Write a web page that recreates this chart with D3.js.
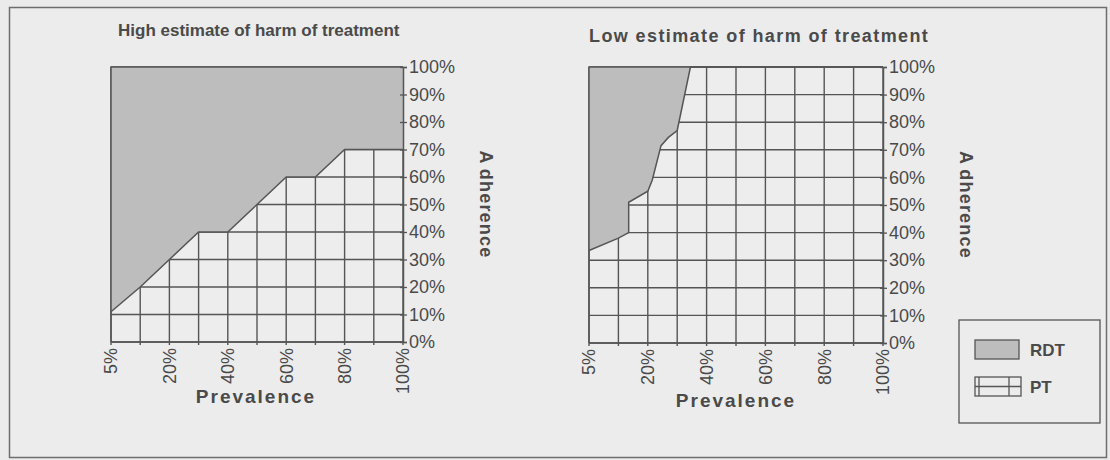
<!DOCTYPE html>
<html>
<head>
<meta charset="utf-8">
<script src="https://cdn.jsdelivr.net/npm/d3@7"></script>
<style>
  body { margin: 0; background: #ebebeb; }
  svg { display: block; }
  text { font-family: "Liberation Sans", Arial, sans-serif; fill: #4a4a4a; }
</style>
</head>
<body>
<div id="chart"></div>
<script>
// prevalence categories on the x axis (only every other one is labelled)
const prevalence = [5, 10, 20, 30, 40, 50, 60, 70, 80, 90, 100];
const prevalenceLabels = [5, 20, 40, 60, 80, 100];
const adherenceTicks = [0, 10, 20, 30, 40, 50, 60, 70, 80, 90, 100];

// high estimate: adherence threshold below which PT is preferred
const highPrev = [5, 10, 20, 30, 40, 50, 60, 70, 80, 90, 100];
const highPT   = [11, 20, 30, 40, 40, 50, 60, 60, 70, 70, 70];

// low estimate: threshold curve is irregular, so it has extra points
const lowPrev = [5, 10, 13.5, 13.5, 20, 21.5, 24.5, 27, 30, 34.5, 40, 50, 60, 70, 80, 90, 100];
const lowPT   = [33.5, 38, 40, 51, 55, 59, 71.5, 74.5, 77, 100, 100, 100, 100, 100, 100, 100, 100];

const width = 1110;
const height = 460;

const svg = d3.select('#chart').append('svg')
    .attr('width', width)
    .attr('height', height);

// outer frame
svg.append('rect')
    .attr('x', 9.5).attr('y', 7.5)
    .attr('width', 1097).attr('height', 450)
    .attr('fill', '#ececec')
    .attr('stroke', '#6e6e6e')
    .attr('stroke-width', 1.5);

const rdtColour = '#bdbdbd';
const lineColour = '#555';

function drawPanel(opts) {
    const { x0, x1, y0, y1, title, prev, pt, labelX, prevX } = opts;
    const step = (x1 - x0) / 10;

    // Excel category axis: 5% and 10% sit one step apart, then every 10%
    const x = d3.scaleLinear().domain([5, 10, 100]).range([x0, x0 + step, x1]);
    const y = d3.scaleLinear().domain([0, 100]).range([y1, y0]);

    const rows = prev.map((p, i) => ({ prev: p, PT: pt[i], RDT: 100 - pt[i] }));
    const series = d3.stack().keys(['PT', 'RDT'])(rows);

    const g = svg.append('g');

    // plot background
    g.append('rect')
        .attr('x', x0).attr('y', y0)
        .attr('width', x1 - x0).attr('height', y1 - y0)
        .attr('fill', '#ededed');

    // grid
    g.selectAll('.hgrid')
        .data(adherenceTicks)
        .enter().append('line')
        .attr('x1', x0).attr('x2', x1)
        .attr('y1', d => y(d)).attr('y2', d => y(d))
        .attr('stroke', lineColour).attr('stroke-width', 1.4);

    g.selectAll('.vgrid')
        .data(prevalence)
        .enter().append('line')
        .attr('x1', d => x(d)).attr('x2', d => x(d))
        .attr('y1', y0).attr('y2', y1 + 3)
        .attr('stroke', lineColour).attr('stroke-width', 1.4);

    const area = d3.area()
        .x(d => x(d.data.prev))
        .y0(d => y(d[0]))
        .y1(d => y(d[1]));

    // RDT area on top covers the grid
    g.append('path')
        .datum(series[1])
        .attr('d', area)
        .attr('fill', rdtColour);

    // boundary between PT and RDT
    g.append('path')
        .datum(series[0])
        .attr('d', d3.line().x(d => x(d.data.prev)).y(d => y(d[1])))
        .attr('fill', 'none')
        .attr('stroke', lineColour)
        .attr('stroke-width', 1.5);

    // plot border
    g.append('path')
        .attr('d', `M${x0},${y1}V${y0}H${x1}`)
        .attr('fill', 'none')
        .attr('stroke', lineColour)
        .attr('stroke-width', 1.5);

    // right y axis
    const yAxis = g.append('g')
        .attr('transform', `translate(${x1},0)`)
        .call(d3.axisRight(y).tickValues(adherenceTicks).tickSize(4).tickPadding(2).tickFormat(d => d + '%'));
    yAxis.select('.domain').attr('stroke', lineColour).attr('stroke-width', 1.5);
    yAxis.selectAll('.tick line').attr('stroke', lineColour).attr('x1', -3).attr('stroke-width', 1.3);
    yAxis.selectAll('.tick text')
        .attr('fill', '#4a4a4a')
        .style('font-size', '18px')
        .style('font-family', '"Liberation Sans", Arial, sans-serif');

    // bottom axis line
    g.append('line')
        .attr('x1', x0).attr('x2', x1)
        .attr('y1', y1).attr('y2', y1)
        .attr('stroke', lineColour).attr('stroke-width', 1.5);

    // rotated x labels
    g.selectAll('.xlab')
        .data(prevalenceLabels)
        .enter().append('text')
        .attr('transform', d => `translate(${x(d)},${y1 + 6}) rotate(-90)`)
        .attr('text-anchor', 'end')
        .attr('dy', '0.35em')
        .style('font-size', '18px')
        .text(d => d + '%');

    // titles
    g.append('text')
        .attr('x', opts.titleX).attr('y', opts.titleY)
        .style('font-size', opts.titleSize + 'px')
        .style('letter-spacing', opts.titleSpacing + 'px')
        .style('font-weight', 'bold')
        .text(title);

    g.append('text')
        .attr('x', prevX).attr('y', opts.prevY)
        .attr('text-anchor', 'middle')
        .style('font-size', '19px')
        .style('letter-spacing', '2px')
        .style('font-weight', 'bold')
        .text('Prevalence');

    const adh = g.append('text')
        .attr('transform', `translate(${labelX},${(y0 + y1) / 2}) rotate(90)`)
        .attr('text-anchor', 'middle')
        .style('font-size', '18px')
        .style('letter-spacing', '1.2px')
        .style('font-weight', 'bold');
    adh.append('tspan').text('A');
    adh.append('tspan').attr('dx', 4).text('dherence');
}

drawPanel({
    x0: 111, x1: 403, y0: 67, y1: 342,
    title: 'High estimate of harm of treatment', titleX: 118, titleY: 36,
    titleSize: 17, titleSpacing: 0,
    prev: highPrev, pt: highPT,
    labelX: 480, prevX: 256, prevY: 403
});

drawPanel({
    x0: 589, x1: 883, y0: 67, y1: 343,
    title: 'Low estimate of harm of treatment', titleX: 589, titleY: 42,
    titleSize: 18, titleSpacing: 1.4,
    prev: lowPrev, pt: lowPT,
    labelX: 960, prevX: 736, prevY: 407
});

// legend
const legend = svg.append('g');
legend.append('rect')
    .attr('x', 959).attr('y', 320)
    .attr('width', 141).attr('height', 103)
    .attr('fill', '#ececec')
    .attr('stroke', '#555').attr('stroke-width', 1.3);

legend.append('rect')
    .attr('x', 975).attr('y', 340)
    .attr('width', 44).attr('height', 19)
    .attr('fill', rdtColour)
    .attr('stroke', lineColour).attr('stroke-width', 1.3);

legend.append('rect')
    .attr('x', 975).attr('y', 377)
    .attr('width', 46).attr('height', 19)
    .attr('fill', '#ececec')
    .attr('stroke', lineColour).attr('stroke-width', 1.3);
legend.append('line')
    .attr('x1', 975).attr('x2', 1021).attr('y1', 386.5).attr('y2', 386.5)
    .attr('stroke', lineColour).attr('stroke-width', 1.3);
[979, 1009].forEach(lx => legend.append('line')
    .attr('x1', lx).attr('x2', lx).attr('y1', 377).attr('y2', 396)
    .attr('stroke', lineColour).attr('stroke-width', 1.3));

legend.selectAll('.ltext')
    .data(['RDT', 'PT'])
    .enter().append('text')
    .attr('x', 1030)
    .attr('y', (d, i) => 356 + i * 37)
    .style('font-size', '17px')
    .style('font-weight', 'bold')
    .text(d => d);
</script>
</body>
</html>
